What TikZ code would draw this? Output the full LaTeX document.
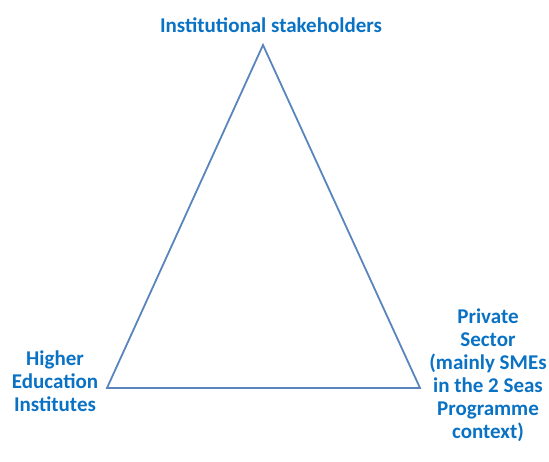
\documentclass[tikz,border=0pt]{standalone}
\usepackage{fontspec}
\setmainfont{Carlito}
\usepackage{tikz}
\definecolor{txtBlue}{HTML}{0A72C4}
\definecolor{lineBlue}{HTML}{5A84BE}
\newcommand{\cT}{txtBlue}
\newcommand{\cL}{lineBlue}

\begin{document}
\begin{tikzpicture}[x=1pt,y=-1pt,
    corner/.style={text=\cT, font=\bfseries\fontsize{21}{23}\selectfont, align=center, inner sep=0pt}]
    \useasboundingbox (0,0) rectangle (549,462);
    % --- --- --- Corners of the triangle
    \coordinate (top) at (263,45);
    \coordinate (left) at (107,388);
    \coordinate (right) at (420,388);
    % --- --- --- Triangle
    \draw[\cL, line width=1.8pt, line join=miter] (top) -- (left) -- (right) -- cycle;
    % === === === Labels
    \node[corner] (inst) at (271,25) {Institutional stakeholders};
    \node[corner] (hei) at (55,381) {Higher\\Education\\Institutes};
    \node[corner] (priv) at (488,375) {Private\\Sector\\(mainly SMEs\\in the 2 Seas\\Programme\\context)};
\end{tikzpicture}
\end{document}
